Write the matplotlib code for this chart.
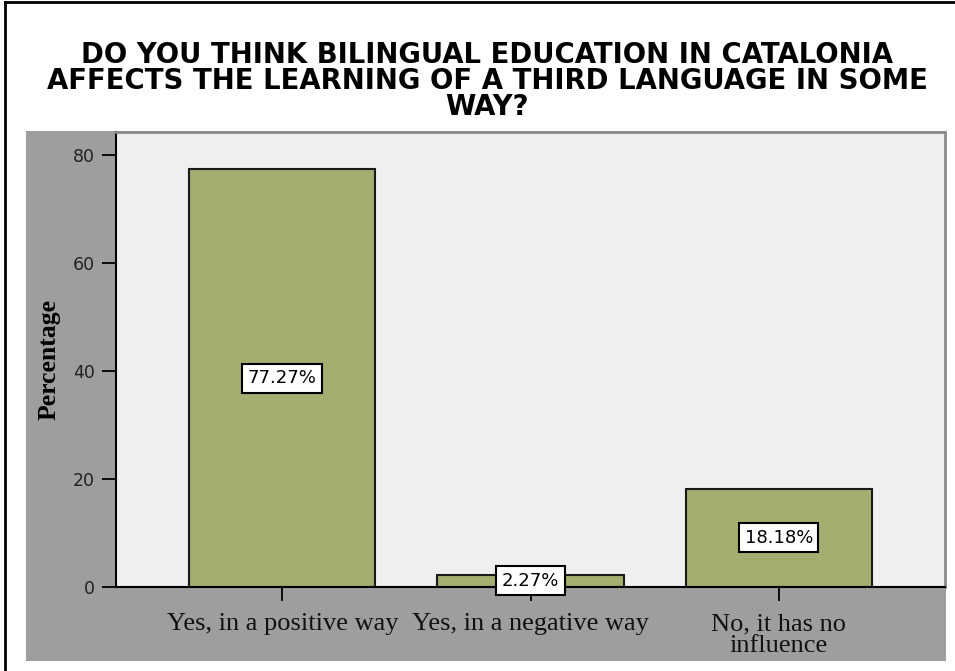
import matplotlib
matplotlib.use("Agg")
import matplotlib.pyplot as plt
from matplotlib.patches import Rectangle
from matplotlib.lines import Line2D

categories = ["Yes, in a positive way", "Yes, in a negative way", "No, it has no\ninfluence"]
percentages = [77.27, 2.27, 18.18]
value_labels = ["77.27%", "2.27%", "18.18%"]
y_ticks = [0, 20, 40, 60, 80]
title = ("DO YOU THINK BILINGUAL EDUCATION IN CATALONIA\n"
         "AFFECTS THE LEARNING OF A THIRD LANGUAGE IN SOME\n"
         "WAY?")

W, H = 955, 671
fig = plt.figure(figsize=(W / 100, H / 100), dpi=100)
fig.patch.set_facecolor("white")

def fx(px):
    return px / W

def fy(py):
    return 1 - py / H

# gray chart panel behind the axes
fig.patches.append(Rectangle((fx(26), fy(661)), fx(946) - fx(26), fy(131) - fy(661),
                             transform=fig.transFigure, facecolor="#9E9E9E",
                             edgecolor="none", zorder=-5))
# frame lines on the left and top
fig.add_artist(Line2D([fx(5), fx(5)], [0, fy(2)], transform=fig.transFigure,
                      color="black", lw=2))
fig.add_artist(Line2D([fx(5), 1], [fy(2), fy(2)], transform=fig.transFigure,
                      color="black", lw=2))

ax = fig.add_axes([fx(116), fy(587), fx(945) - fx(116), fy(132) - fy(587)])
ax.set_zorder(2)
ax.set_facecolor("#EFEFEF")

x = list(range(len(categories)))
ax.bar(x, percentages, width=0.75, color="#A5AD70", edgecolor="#1A1A1A",
       linewidth=1.5, zorder=2)

for xi, v, lab in zip(x, percentages, value_labels):
    ax.text(xi, v / 2, lab, ha="center", va="center", fontsize=13,
            family="DejaVu Sans", color="black", zorder=4,
            bbox=dict(boxstyle="square,pad=0.3", facecolor="white",
                      edgecolor="black", linewidth=1.5))

ax.set_xlim(-0.67, 2.67)
ax.set_ylim(0, 84.2)
ax.set_yticks(y_ticks)
ax.set_yticklabels([str(t) for t in y_ticks], fontsize=12.5,
                   family="DejaVu Sans", color="#222222")
ax.set_xticks(x)
ax.set_xticklabels(categories, fontsize=19, family="Liberation Serif",
                   color="#111111", linespacing=1.0)
ax.tick_params(axis="y", length=10, width=1.3, color="black", pad=5)
ax.tick_params(axis="x", length=10, width=1.3, color="black", pad=9)

for side in ("left", "bottom"):
    ax.spines[side].set_color("black")
    ax.spines[side].set_linewidth(1.5)
for side in ("top", "right"):
    ax.spines[side].set_color("#8A8A8A")
    ax.spines[side].set_linewidth(2)

ax.set_ylabel("Percentage", fontsize=18.5, family="Liberation Serif",
              fontweight="bold", labelpad=9)

fig.text(fx(487), fy(41), title, ha="center", va="top", fontsize=19.8,
         family="DejaVu Sans", fontweight="bold", linespacing=0.9)

fig.savefig("out.png", dpi=100)
